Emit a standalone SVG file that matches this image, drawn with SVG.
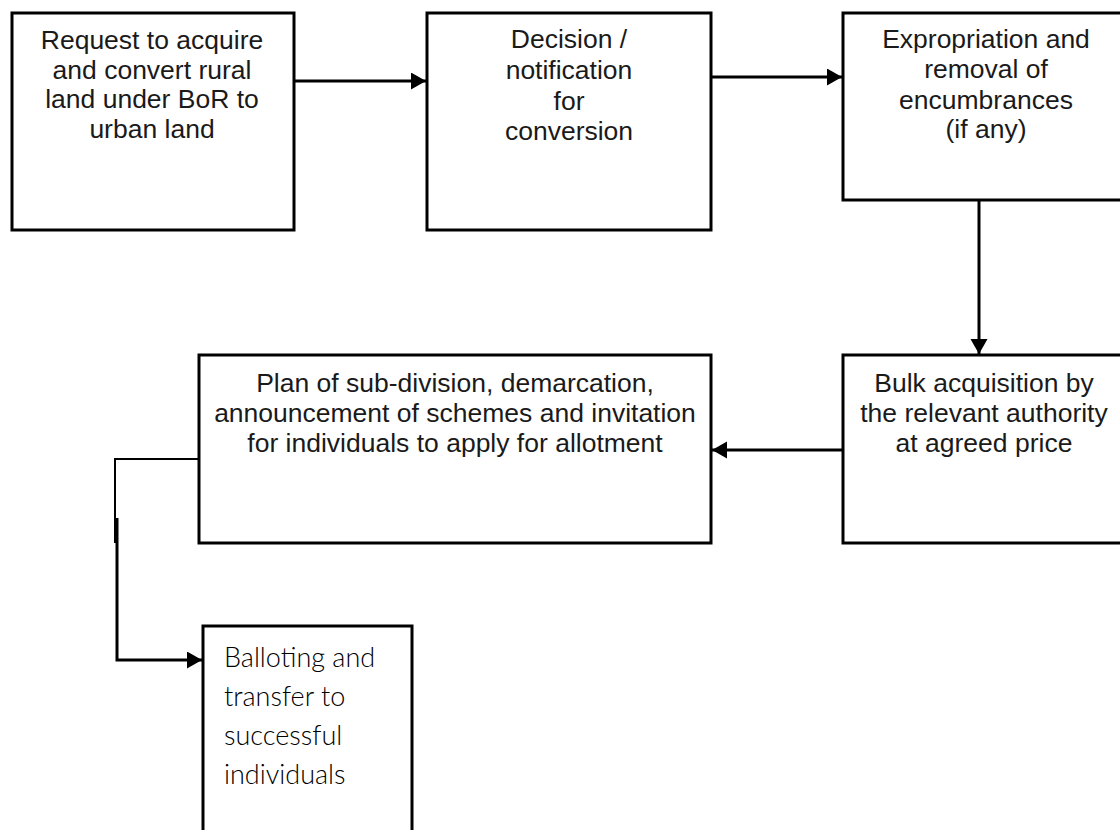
<svg xmlns="http://www.w3.org/2000/svg" width="1120" height="830" viewBox="0 0 1120 830">
<style>
.box{fill:#fff;stroke:#000;stroke-width:3}
.t{font-family:"Liberation Sans",Arial,sans-serif;font-size:26.5px;fill:#1a1a1a;text-anchor:middle}
.c{font-family:Lato,"Open Sans",sans-serif;font-size:27px;font-weight:300;fill:#000}
.ln{fill:none;stroke:#000;stroke-width:3}
</style>
<defs>
<marker id="ah" markerUnits="userSpaceOnUse" markerWidth="17" markerHeight="18" refX="15" refY="8.5" orient="auto">
<path d="M0,0 L15,8.5 L0,17 z" fill="#000"/>
</marker>
</defs>
<rect width="1120" height="830" fill="#fff"/>
<g id="connectors">
<line class="ln" x1="294" y1="81" x2="426" y2="81" marker-end="url(#ah)"/>
<line class="ln" x1="711" y1="77" x2="842" y2="77" marker-end="url(#ah)"/>
<line class="ln" x1="979" y1="200" x2="979" y2="354" marker-end="url(#ah)"/>
<line class="ln" x1="843" y1="450" x2="712" y2="450" marker-end="url(#ah)"/>
<path d="M199,459 H115 V543" fill="none" stroke="#000" stroke-width="2"/>
<path class="ln" d="M117,518 V660 H202" stroke-width="3.5" marker-end="url(#ah)"/>
</g>
<g id="n1">
<rect class="box" x="12" y="13" width="282" height="217"/>
<text class="t"><tspan x="152" y="49">Request to acquire</tspan><tspan x="152" y="79">and convert rural</tspan><tspan x="152" y="108">land under BoR to</tspan><tspan x="152" y="138">urban land</tspan></text>
</g>
<g id="n2">
<rect class="box" x="427" y="13" width="284" height="217"/>
<text class="t"><tspan x="569" y="48">Decision /</tspan><tspan x="569" y="79">notification</tspan><tspan x="569" y="110">for</tspan><tspan x="569" y="140">conversion</tspan></text>
</g>
<g id="n3">
<rect class="box" x="843" y="13" width="286" height="187"/>
<text class="t"><tspan x="986" y="48">Expropriation and</tspan><tspan x="986" y="78">removal of</tspan><tspan x="986" y="109">encumbrances</tspan><tspan x="986" y="138">(if any)</tspan></text>
</g>
<g id="n4">
<rect class="box" x="843" y="355" width="286" height="188"/>
<text class="t"><tspan x="984" y="392">Bulk acquisition by</tspan><tspan x="984" y="422">the relevant authority</tspan><tspan x="984" y="452">at agreed price</tspan></text>
</g>
<g id="n5">
<rect class="box" x="199" y="355" width="512" height="188"/>
<text class="t"><tspan x="455" y="392">Plan of sub-division, demarcation,</tspan><tspan x="455" y="422">announcement of schemes and invitation</tspan><tspan x="455" y="452">for individuals to apply for allotment</tspan></text>
</g>
<g id="n6">
<rect class="box" x="203" y="626" width="209" height="230" stroke-width="3.5"/>
<text class="c"><tspan x="224" y="667">Balloting and</tspan><tspan x="224" y="706">transfer to</tspan><tspan x="224" y="745">successful</tspan><tspan x="224" y="784">individuals</tspan></text>
</g>
</svg>
